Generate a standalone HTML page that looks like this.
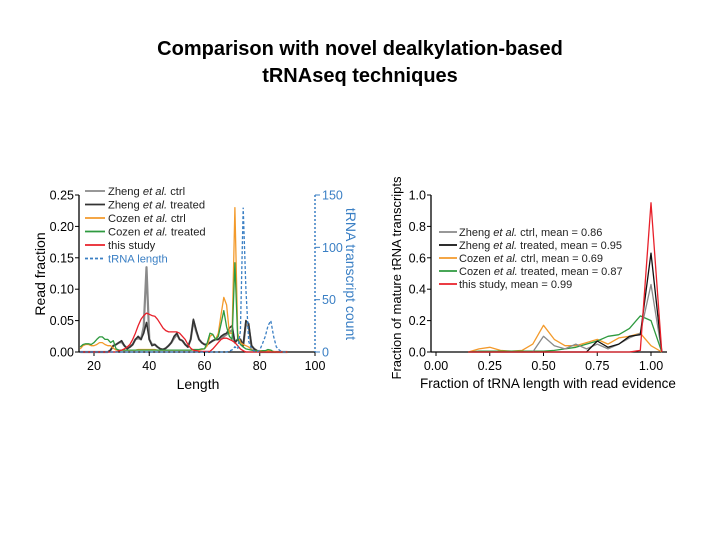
<!DOCTYPE html>
<html><head><meta charset="utf-8"><style>
body{margin:0;background:#fff;width:720px;height:540px;overflow:hidden}
svg{font-family:"Liberation Sans",sans-serif}
</style></head><body>
<svg id="s" width="720" height="540">
<text x="360" y="55" text-anchor="middle" font-size="20" font-weight="bold">Comparison with novel dealkylation-based</text>
<text x="360" y="82" text-anchor="middle" font-size="20" font-weight="bold">tRNAseq techniques</text>
<g id="L"></g>
<g id="R"></g>
</svg>
<script>
// ---- Left chart data (lengths 15..90) ----
const lenStart = 15;
const zhengTreated = [0,0,0,0,0,0,0,0,0,0, 0,0.003,0.01,0.012,0.015,0.018,0.01,0.005,0.008,0.012, 0.02,0.025,0.02,0.03,0.047,0.02,0.01,0.012,0.008,0.005, 0.004,0.006,0.01,0.015,0.025,0.03,0.02,0.018,0.012,0.008, 0.02,0.052,0.035,0.02,0.015,0.012,0.012,0.015,0.018,0.02, 0.02,0.025,0.028,0.03,0.038,0.042,0.015,0.02,0.02,0.01, 0.05,0.045,0.01,0.005,0.002,0,0,0,0,0, 0,0,0,0,0,0];
const zhengCtrl = [0,0,0,0,0,0,0,0,0,0, 0,0.003,0.01,0.012,0.015,0.016,0.01,0.006,0.008,0.012, 0.02,0.022,0.02,0.04,0.135,0.02,0.012,0.012,0.008,0.005, 0.004,0.006,0.01,0.015,0.022,0.028,0.02,0.018,0.012,0.008, 0.02,0.05,0.033,0.02,0.015,0.012,0.012,0.015,0.018,0.02, 0.02,0.022,0.025,0.028,0.032,0.035,0.015,0.02,0.02,0.01, 0.045,0.04,0.01,0.005,0.002,0,0,0,0,0, 0,0,0,0,0,0];
const cozenCtrl = [0.005,0.01,0.012,0.012,0.01,0.01,0.012,0.015,0.015,0.012, 0.01,0.01,0.006,0.003,0.003,0.003,0.003,0.003,0.003,0.003, 0.003,0.004,0.004,0.004,0.004,0.004,0.004,0.004,0.003,0.003, 0.003,0.003,0.003,0.003,0.003,0.003,0.003,0.003,0.003,0.003, 0.003,0.003,0.003,0.003,0.004,0.005,0.01,0.025,0.028,0.02, 0.03,0.06,0.087,0.075,0.03,0.03,0.23,0.03,0.015,0.012, 0.01,0.008,0.004,0.002,0.002,0.002,0.002,0.002,0.002,0.002, 0.001,0,0,0,0,0];
const cozenTreated = [0.008,0.012,0.013,0.013,0.012,0.015,0.02,0.024,0.024,0.02, 0.02,0.015,0.018,0.005,0.003,0.003,0.003,0.003,0.003,0.003, 0.003,0.003,0.003,0.003,0.003,0.003,0.003,0.003,0.003,0.003, 0.003,0.003,0.003,0.003,0.003,0.003,0.003,0.003,0.003,0.003, 0.003,0.004,0.004,0.004,0.005,0.005,0.015,0.03,0.028,0.02, 0.025,0.045,0.066,0.04,0.025,0.02,0.142,0.02,0.012,0.008, 0.005,0.004,0.003,0.002,0.002,0.001,0.002,0.002,0.004,0.003, 0,0,0,0,0,0];
const thisStudy = [0,0,0,0,0,0,0,0,0,0, 0,0,0,0,0.002,0.003,0.005,0.008,0.012,0.02, 0.03,0.042,0.052,0.058,0.062,0.06,0.058,0.057,0.052,0.045, 0.038,0.034,0.032,0.032,0.032,0.032,0.03,0.025,0.02,0.012, 0.006,0.003,0.002,0.001,0.001,0.001,0.001,0.001,0.005,0.01, 0.015,0.02,0.022,0.022,0.02,0.018,0.015,0.01,0.005,0.002, 0,0,0,0,0,0,0,0,0,0, 0,0,0,0,0,0];
const trnaCount = [0,0,0,0,0,0,0,0,0,0, 0,0,0,0,0,0,0,0,0,0, 0,0,0,0,0,0,0,0,0,0, 0,0,0,0,0,0,0,0,0,0, 0,0,0,0,0,0,0,0,0,0, 0,0,0,0,1,2,5,3,20,138, 60,10,3,1,0,2,8,15,25,30, 15,5,2,0,0,0];
const leftYTicks = [0,0.05,0.10,0.15,0.20,0.25];
const leftYLabels = ["0.00","0.05","0.10","0.15","0.20","0.25"];
const leftXTicks = [20,40,60,80,100];
const rightCountTicks = [0,50,100,150];
// ---- Right chart data (bins) ----
const bins = [0.15,0.2,0.25,0.3,0.35,0.4,0.45,0.5,0.55,0.6,0.65,0.7,0.75,0.8,0.85,0.9,0.95,1.0,1.05];
const covZhengCtrl = [0,0,0,0,0,0,0,0.10,0.04,0.02,0.05,0.02,0.05,0.02,0.05,0.09,0.12,0.43,0];
const covZhengTreated = [0,0,0,0,0,0,0,0,0,0,0,0,0.07,0.03,0.05,0.10,0.11,0.63,0];
const covCozenCtrl = [0,0.02,0.03,0.01,0.005,0.01,0.05,0.17,0.08,0.04,0.04,0.06,0.08,0.05,0.09,0.10,0.12,0.04,0];
const covCozenTreated = [0,0.005,0.005,0.005,0.005,0.005,0.005,0.005,0.01,0.02,0.03,0.05,0.07,0.10,0.11,0.15,0.23,0.20,0];
const covThis = [0,0,0,0,0,0,0,0,0,0,0,0,0,0,0,0,0.01,0.95,0];
const covYTicks = [0,0.2,0.4,0.6,0.8,1.0];
const covYLabels = ["0.0","0.2","0.4","0.6","0.8","1.0"];
const covXTicks = [0,0.25,0.5,0.75,1.0];
const covXLabels = ["0.00","0.25","0.50","0.75","1.00"];

const NS="http://www.w3.org/2000/svg";
function mk(p,t,a,txt){const e=document.createElementNS(NS,t);for(const k in a)e.setAttribute(k,a[k]);if(txt!==undefined)e.textContent=txt;p.appendChild(e);return e;}

// Left chart
const L=document.getElementById('L');
const lx=v=>94+(v-20)*(315-94)/80;
const ly=v=>352-v*(352-195)/0.25;
const ly2=v=>352-v*(352-195)/150;
let e;
e=mk(L,'line',{x1:79,y1:195,x2:79,y2:352,stroke:'#000','stroke-width':1.3});


e=mk(L,'line',{x1:79,y1:352,x2:315,y2:352,stroke:'#000','stroke-width':1.3});


leftYTicks.forEach((t,i)=>{
 mk(L,'line',{x1:75,y1:ly(t),x2:79,y2:ly(t),stroke:'#000'});
 e=mk(L,'text',{x:74,y:ly(t)+4.5,'text-anchor':'end','font-size':12.5},leftYLabels[i]);
 
 
});
leftXTicks.forEach(t=>{
 mk(L,'line',{x1:lx(t),y1:352,x2:lx(t),y2:356,stroke:'#000'});
 e=mk(L,'text',{x:lx(t),y:370,'text-anchor':'middle','font-size':12.5},String(t));
 
 
});
e=mk(L,'line',{x1:315,y1:195,x2:315,y2:352,stroke:'#3a7fc4','stroke-width':1.5,'stroke-dasharray':'2,2'});


rightCountTicks.forEach(t=>{
 mk(L,'line',{x1:315,y1:ly2(t),x2:320,y2:ly2(t),stroke:'#3a7fc4'});
 e=mk(L,'text',{x:322,y:ly2(t)+4.5,'font-size':12.5,fill:'#3a7fc4'},String(t));
 
 
});
e=mk(L,'text',{x:0,y:0,'font-size':14,'text-anchor':'middle',transform:'translate(45,274) rotate(-90)'},'Read  fraction');


e=mk(L,'text',{x:198,y:389,'font-size':14,'text-anchor':'middle'},'Length');


e=mk(L,'text',{x:0,y:0,'font-size':14,'text-anchor':'middle',fill:'#3a7fc4',transform:'translate(346,274) rotate(90)'},'tRNA transcript count');


function lpath(arr,yf){return arr.map((v,i)=>(i?'L':'M')+lx(lenStart+i).toFixed(1)+','+yf(v).toFixed(1)).join('');}
const lseries=[[zhengCtrl,'#8a8a8a',2.2,'series-zheng-ctrl'],[zhengTreated,'#333',1.6,'series-zheng-treated'],[cozenCtrl,'#f39a2b',1.3,'series-cozen-ctrl'],[cozenTreated,'#2e9a3f',1.3,'series-cozen-treated'],[thisStudy,'#e8202a',1.3,'series-this-study']];
lseries.forEach(s=>{
 e=mk(L,'path',{d:lpath(s[0],ly),fill:'none',stroke:s[1],'stroke-width':s[2],'stroke-linejoin':'round'});
 
 
});
e=mk(L,'path',{d:lpath(trnaCount,ly2),fill:'none',stroke:'#3a7fc4','stroke-width':1.3,'stroke-dasharray':'3,2'});


const lleg=[['Zheng ','et al.',' ctrl','#8a8a8a',''],['Zheng ','et al.',' treated','#333',''],['Cozen ','et al.',' ctrl','#f39a2b',''],['Cozen ','et al.',' treated','#2e9a3f',''],['this study','','','#e8202a',''],['tRNA length','','','#3a7fc4','3,2']];
lleg.forEach((r,i)=>{
 const y=191+i*13.5;
 const g=mk(L,'g',{});
 
 
 mk(g,'line',{x1:85,y1:y,x2:105,y2:y,stroke:r[3],'stroke-width':1.8,'stroke-dasharray':r[4]||'none'});
 const t=mk(g,'text',{x:108,y:y+4,'font-size':11.2,fill:i==5?'#3a7fc4':'#222'});
 mk(t,'tspan',{},r[0]);if(r[1])mk(t,'tspan',{'font-style':'italic'},r[1]);if(r[2])mk(t,'tspan',{},r[2]);
});

// Right chart
const R=document.getElementById('R');
const rx=v=>436+v*(651-436);
const ry=v=>352-v*(352-195);
e=mk(R,'line',{x1:431,y1:195,x2:431,y2:352,stroke:'#000','stroke-width':1.3});


e=mk(R,'line',{x1:431,y1:352,x2:667,y2:352,stroke:'#000','stroke-width':1.3});


covYTicks.forEach((t,i)=>{
 mk(R,'line',{x1:427,y1:ry(t),x2:431,y2:ry(t),stroke:'#000'});
 e=mk(R,'text',{x:426,y:ry(t)+4.5,'text-anchor':'end','font-size':12.5},covYLabels[i]);
 
 
});
covXTicks.forEach((t,i)=>{
 mk(R,'line',{x1:rx(t),y1:352,x2:rx(t),y2:356,stroke:'#000'});
 e=mk(R,'text',{x:rx(t),y:370,'text-anchor':'middle','font-size':12.5},covXLabels[i]);
 
 
});
e=mk(R,'text',{x:0,y:0,'font-size':13,'text-anchor':'middle',transform:'translate(401,278) rotate(-90)'},'Fraction of mature tRNA transcripts');


e=mk(R,'text',{x:548,y:388,'font-size':13.5,'text-anchor':'middle'},'Fraction of tRNA length with read evidence');


function rpath(arr){return arr.map((v,i)=>(i?'L':'M')+rx(bins[i]).toFixed(1)+','+ry(v).toFixed(1)).join('');}
const rseries=[[covCozenCtrl,'#f39a2b','coverage-cozen-ctrl'],[covCozenTreated,'#2e9a3f','coverage-cozen-treated'],[covZhengCtrl,'#8a8a8a','coverage-zheng-ctrl'],[covZhengTreated,'#111','coverage-zheng-treated'],[covThis,'#e8202a','coverage-this-study']];
rseries.forEach(s=>{
 e=mk(R,'path',{d:rpath(s[0]),fill:'none',stroke:s[1],'stroke-width':1.3,'stroke-linejoin':'round'});
 
 
});
const rleg=[['Zheng ','et al.',' ctrl, mean = 0.86','#8a8a8a'],['Zheng ','et al.',' treated, mean = 0.95','#111'],['Cozen ','et al.',' ctrl, mean = 0.69','#f39a2b'],['Cozen ','et al.',' treated, mean = 0.87','#2e9a3f'],['this study, mean = 0.99','','','#e8202a']];
rleg.forEach((r,i)=>{
 const y=232+i*13;
 const g=mk(R,'g',{});
 
 
 mk(g,'line',{x1:439,y1:y,x2:457,y2:y,stroke:r[3],'stroke-width':1.8});
 const t=mk(g,'text',{x:459,y:y+4,'font-size':11,fill:'#222'});
 mk(t,'tspan',{},r[0]);if(r[1])mk(t,'tspan',{'font-style':'italic'},r[1]);if(r[2])mk(t,'tspan',{},r[2]);
});
</script>
</body></html>
